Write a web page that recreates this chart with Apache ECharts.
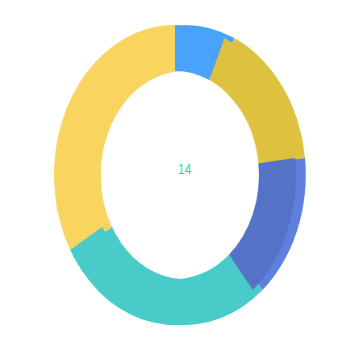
<!DOCTYPE html>
<html>
<head>
<meta charset="utf-8">
<script src="https://cdn.jsdelivr.net/npm/echarts@6/dist/echarts.min.js"></script>
<style>
html, body { margin: 0; padding: 0; background: #fff; }
/* the reference ring is squeezed horizontally */
#main { width: 350px; height: 350px; transform: scaleX(0.807); transform-origin: 175px 175px; }
</style>
</head>
<body>
<div id="main"></div>
<script>
var names = ['A', 'B', 'C', 'D', 'E'];
var values = [6.7, 16.5, 15.7, 27.8, 33.3];
var frontColors = ['#4aa3fb', '#dec13e', '#5573c6', '#48cbc9', '#f9d560'];
var backColors = ['#4aa3fb', '#dec13e', '#5c80dc', '#48cbc9', '#f9d560'];
var centerText = '14';

var chartDom = document.getElementById('main');
var myChart = echarts.init(chartDom);
var option;

function buildData(colors, withLabel) {
    return names.map(function (n, i) {
        var item = { name: n, value: values[i], itemStyle: { color: colors[i] } };
        if (withLabel && i === 0) {
            item.label = {
                show: true,
                position: 'center',
                formatter: centerText,
                color: '#00e696',
                fontSize: 15,
                offset: [0, -5]
            };
        }
        return item;
    });
}

option = {
    animation: false,
    series: [
        {
            name: 'back',
            type: 'pie',
            center: [187, 175],
            radius: [104, 150],
            startAngle: 90,
            label: { show: false },
            labelLine: { show: false },
            silent: true,
            data: buildData(backColors, true)
        },
        {
            name: 'front',
            type: 'pie',
            center: [175, 175],
            radius: [104, 150],
            startAngle: 90,
            label: { show: false },
            labelLine: { show: false },
            silent: true,
            data: buildData(frontColors, false)
        }
    ]
};

option && myChart.setOption(option);
</script>
</body>
</html>
